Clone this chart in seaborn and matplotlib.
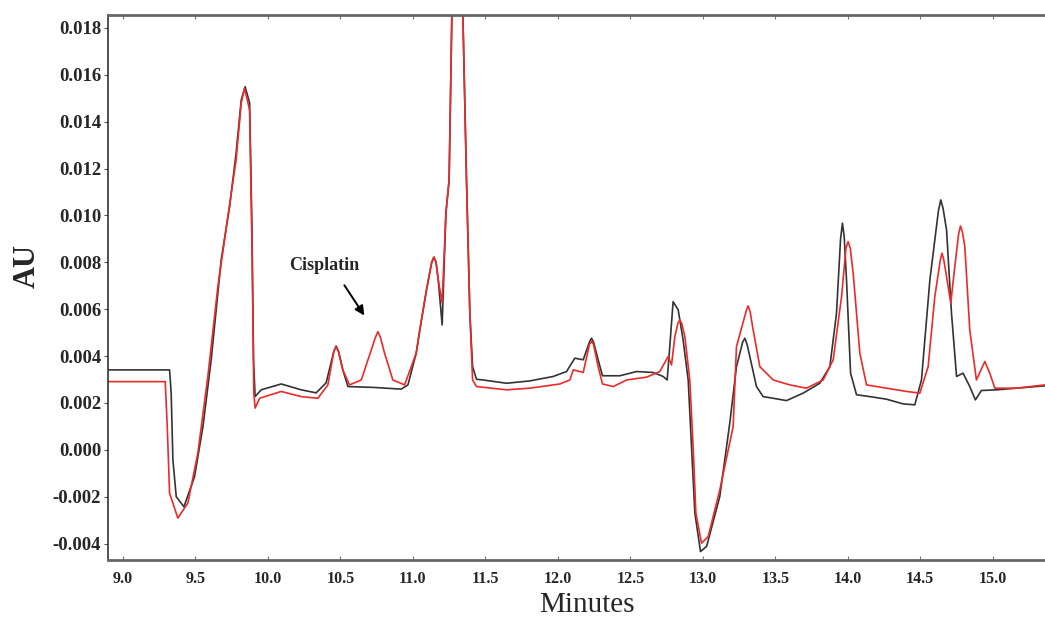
import numpy as np
import pandas as pd
import matplotlib
matplotlib.use("Agg")
import matplotlib.pyplot as plt
import seaborn as sns

# Chromatogram traces (time in min, absorbance in AU)
black_time = [8.897, 9.322, 9.333, 9.345, 9.368, 9.421, 9.494, 9.552, 9.609, 9.678,
              9.736, 9.781, 9.816, 9.843, 9.874, 9.890, 9.901, 9.912, 9.954, 10.092,
              10.230, 10.333, 10.402, 10.455, 10.471, 10.487, 10.517, 10.552, 10.736, 10.919,
              10.966, 11.023, 11.048, 11.094, 11.130, 11.145, 11.160, 11.175, 11.202, 11.228,
              11.250, 11.269, 11.307, 11.345, 11.370, 11.393, 11.412, 11.439, 11.485, 11.646,
              11.807, 11.968, 12.060, 12.117, 12.175, 12.218, 12.232, 12.246, 12.278, 12.308,
              12.428, 12.543, 12.657, 12.726, 12.754, 12.772, 12.795, 12.830, 12.864, 12.899,
              12.922, 12.945, 12.984, 13.026, 13.117, 13.186, 13.232, 13.275, 13.290, 13.305,
              13.324, 13.370, 13.416, 13.485, 13.577, 13.692, 13.807, 13.876, 13.922, 13.950,
              13.963, 13.975, 13.991, 14.019, 14.060, 14.152, 14.267, 14.381, 14.462, 14.508,
              14.566, 14.625, 14.641, 14.657, 14.681, 14.715, 14.750, 14.795, 14.841, 14.880,
              14.921, 15.026, 15.163, 15.359]
black_au = [0.00341, 0.00341, 0.00243, -0.00043, -0.00200, -0.00243, -0.00115, 0.00098, 0.00384, 0.00810,
            0.01037, 0.01266, 0.01492, 0.01549, 0.01480, 0.00952, 0.00384, 0.00227, 0.00256, 0.00281,
            0.00256, 0.00243, 0.00286, 0.00420, 0.00443, 0.00420, 0.00341, 0.00270, 0.00266, 0.00259,
            0.00277, 0.00412, 0.00512, 0.00682, 0.00800, 0.00822, 0.00800, 0.00725, 0.00533, 0.01010,
            0.01150, 0.01855, 0.02350, 0.01855, 0.01150, 0.00584, 0.00355, 0.00301, 0.00298, 0.00284,
            0.00294, 0.00313, 0.00334, 0.00391, 0.00384, 0.00460, 0.00476, 0.00460, 0.00384, 0.00316,
            0.00316, 0.00334, 0.00330, 0.00313, 0.00298, 0.00440, 0.00632, 0.00597, 0.00469, 0.00298,
            0.00014, -0.00270, -0.00434, -0.00412, -0.00199, 0.00115, 0.00355, 0.00460, 0.00476, 0.00450,
            0.00398, 0.00270, 0.00227, 0.00220, 0.00210, 0.00242, 0.00284, 0.00355, 0.00583, 0.00900,
            0.00967, 0.00910, 0.00725, 0.00327, 0.00235, 0.00227, 0.00216, 0.00196, 0.00192, 0.00298,
            0.00725, 0.01020, 0.01066, 0.01030, 0.00938, 0.00583, 0.00313, 0.00327, 0.00270, 0.00213,
            0.00253, 0.00256, 0.00263, 0.00273]

red_time = [8.897, 9.292, 9.306, 9.322, 9.379, 9.448, 9.517, 9.586, 9.655, 9.724,
            9.781, 9.816, 9.839, 9.874, 9.892, 9.903, 9.912, 9.943, 10.092, 10.230,
            10.345, 10.414, 10.455, 10.471, 10.487, 10.517, 10.563, 10.644, 10.713, 10.742,
            10.759, 10.776, 10.805, 10.862, 10.943, 11.023, 11.048, 11.094, 11.130, 11.145,
            11.160, 11.175, 11.202, 11.228, 11.250, 11.269, 11.307, 11.345, 11.370, 11.393,
            11.412, 11.439, 11.646, 11.807, 12.014, 12.083, 12.106, 12.175, 12.218, 12.232,
            12.246, 12.278, 12.308, 12.382, 12.474, 12.612, 12.703, 12.761, 12.784, 12.807,
            12.828, 12.841, 12.854, 12.876, 12.910, 12.933, 12.952, 12.991, 13.037, 13.117,
            13.209, 13.232, 13.298, 13.312, 13.326, 13.347, 13.393, 13.485, 13.600, 13.715,
            13.830, 13.899, 13.957, 13.987, 14.002, 14.017, 14.037, 14.083, 14.129, 14.267,
            14.405, 14.497, 14.554, 14.600, 14.638, 14.650, 14.662, 14.681, 14.710, 14.738,
            14.764, 14.777, 14.790, 14.807, 14.841, 14.887, 14.945, 14.979, 15.014, 15.163,
            15.359]
red_au = [0.00291, 0.00291, 0.00099, -0.00185, -0.00291, -0.00227, -0.00014, 0.00313, 0.00696, 0.00995,
          0.01237, 0.01478, 0.01542, 0.01450, 0.00810, 0.00242, 0.00178, 0.00220, 0.00249, 0.00227,
          0.00220, 0.00277, 0.00420, 0.00440, 0.00420, 0.00341, 0.00277, 0.00298, 0.00426, 0.00480,
          0.00504, 0.00480, 0.00412, 0.00298, 0.00277, 0.00412, 0.00512, 0.00682, 0.00800, 0.00822,
          0.00800, 0.00725, 0.00627, 0.01010, 0.01150, 0.01855, 0.02350, 0.01855, 0.01150, 0.00584,
          0.00298, 0.00270, 0.00256, 0.00263, 0.00281, 0.00298, 0.00341, 0.00330, 0.00450, 0.00462,
          0.00450, 0.00355, 0.00281, 0.00270, 0.00298, 0.00310, 0.00334, 0.00398, 0.00362, 0.00483,
          0.00540, 0.00554, 0.00540, 0.00483, 0.00298, 0.00014, -0.00270, -0.00398, -0.00370, -0.00171,
          0.00099, 0.00440, 0.00590, 0.00614, 0.00590, 0.00512, 0.00355, 0.00298, 0.00277, 0.00263,
          0.00298, 0.00384, 0.00654, 0.00860, 0.00888, 0.00860, 0.00753, 0.00412, 0.00277, 0.00263,
          0.00249, 0.00242, 0.00355, 0.00654, 0.00810, 0.00839, 0.00810, 0.00739, 0.00626, 0.00782,
          0.00920, 0.00955, 0.00930, 0.00867, 0.00512, 0.00298, 0.00377, 0.00327, 0.00263, 0.00263,
          0.00277]

x_ticks = [9.0, 9.5, 10.0, 10.5, 11.0, 11.5, 12.0, 12.5, 13.0, 13.5, 14.0, 14.5, 15.0]
y_ticks = [-0.004, -0.002, 0.000, 0.002, 0.004, 0.006, 0.008, 0.010, 0.012, 0.014, 0.016, 0.018]

df = pd.concat([
    pd.DataFrame({"Minutes": black_time, "AU": black_au, "trace": "blank"}),
    pd.DataFrame({"Minutes": red_time, "AU": red_au, "trace": "cisplatin"}),
])

sns.set_style("white")
plt.rcParams['font.family'] = ['Liberation Serif', 'DejaVu Serif']

fig = plt.figure(figsize=(10.45, 6.19), dpi=100)
ax = fig.add_axes([0.1033, 0.0953, 0.8967, 0.8805])

sns.lineplot(data=df, x="Minutes", y="AU", hue="trace", sort=False,
             palette={"blank": "#333333", "cisplatin": "#ec2a2a"},
             linewidth=1.2, legend=False, ax=ax)

ax.set_xlim(8.897, 15.36)
ax.set_ylim(-0.0047, 0.01855)
ax.set_xticks(x_ticks)
ax.set_xticklabels([f"{v:.1f}" for v in x_ticks], fontsize=11.5, fontweight="bold")
ax.set_yticks(y_ticks)
ax.set_yticklabels([f"{v:.3f}" for v in y_ticks], fontsize=13.5, fontweight="bold")
ax.tick_params(axis="x", direction="in", length=3, top=True, bottom=True, pad=8, color="#777777")
ax.tick_params(axis="y", direction="out", length=3, left=True, pad=2, color="#555555")

for side in ["top", "bottom"]:
    ax.spines[side].set_color("#666666")
    ax.spines[side].set_linewidth(2.0)
ax.spines["left"].set_color("#333333")
ax.spines["left"].set_linewidth(1.2)
ax.spines["right"].set_visible(False)

ax.set_xlabel("Minutes", fontsize=21)
ax.xaxis.set_label_coords(0.511, -0.058)
ax.set_ylabel("AU", fontsize=22, fontweight="bold")
ax.yaxis.set_label_coords(-0.071, 0.54)

ax.text(10.386, 0.00785, "Cisplatin", fontsize=13, fontweight="bold",
        ha="center", va="center")
ax.annotate("", xy=(10.676, 0.00563), xytext=(10.517, 0.00712),
            arrowprops=dict(arrowstyle="-|>", color="black", lw=1.4, mutation_scale=14))

fig.savefig("out.png", dpi=100)
